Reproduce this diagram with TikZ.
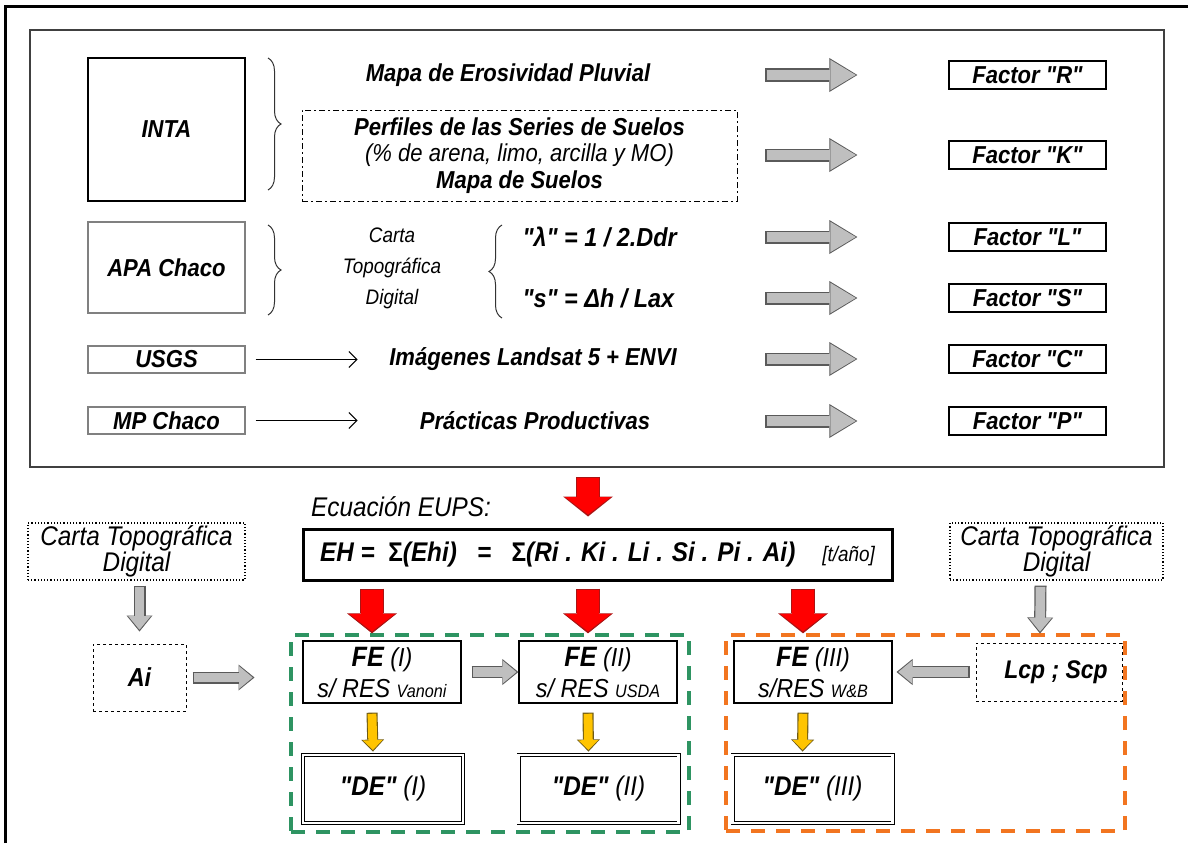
\documentclass[tikz,border=0pt]{standalone}
\usepackage{fontspec}
\newfontfamily\fuente{Liberation Sans}[FakeStretch=0.9]
\usepackage{xcolor}
\usetikzlibrary{arrows.meta,calc,decorations.pathreplacing}

\definecolor{verde}{RGB}{46,148,98}
\definecolor{naranja}{RGB}{242,117,32}
\definecolor{gris}{RGB}{191,191,191}
\definecolor{grisosc}{RGB}{90,90,90}
\definecolor{rojoosc}{RGB}{170,20,20}
\definecolor{amarillo}{RGB}{255,196,0}
\definecolor{amarilloosc}{RGB}{110,90,20}

\begin{document}
\begin{tikzpicture}[x=1pt,y=-1pt,
  txt/.style={font=\fuente\fontsize{24.5}{28}\selectfont\bfseries\itshape},
  txtn/.style={font=\fuente\fontsize{27}{30}\selectfont\itshape},
  caja/.style={draw, line width=1.3pt, inner sep=0pt},
  cajagris/.style={draw=black!50, line width=1.2pt, inner sep=0pt},
  doble/.style={draw, double, double distance=2.2pt, line width=0.9pt, inner sep=0pt},
  llave/.style={draw=black!80, line width=1pt, decorate, decoration={brace, amplitude=13pt}},
  fina/.style={line width=1pt, -{Straight Barb[length=8pt,width=16pt]}},
  flechagruesa/.style={draw=gris, line width=10.5pt,
    -{Triangle[length=25.5pt,width=30.5pt,line width=0pt]}, shorten >=1.6pt, shorten <=1.2pt,
    preaction={draw=grisosc, line width=13pt,
      -{Triangle[length=28pt,width=34pt,line width=0pt]}, shorten >=0pt, shorten <=0pt}},
  flechagris/.style={draw=gris, line width=9.6pt,
    -{Triangle[length=13.7pt,width=22.8pt,line width=0pt]}, shorten >=1.8pt, shorten <=1.2pt,
    preaction={draw=grisosc, line width=12pt,
      -{Triangle[length=16pt,width=26pt,line width=0pt]}, shorten >=0pt, shorten <=0pt}},
  flecharoja/.style={draw=red, line width=21.4pt,
    -{Triangle[length=17.5pt,width=46pt,line width=0pt]}, shorten >=2pt, shorten <=1.3pt,
    preaction={draw=rojoosc, line width=24pt,
      -{Triangle[length=20pt,width=50pt,line width=0pt]}, shorten >=0pt, shorten <=0pt}},
  flechaamarilla/.style={draw=amarillo, line width=8.8pt,
    -{Triangle[length=9.8pt,width=19.8pt,line width=0pt]}, shorten >=1.6pt, shorten <=1.1pt,
    preaction={draw=amarilloosc, line width=11pt,
      -{Triangle[length=12pt,width=23pt,line width=0pt]}, shorten >=0pt, shorten <=0pt}}]

\useasboundingbox (0,0) rectangle (1188,843);

% Marco exterior
\draw[line width=3pt] (5,843) -- (5,6.5) -- (1188,6.5);

% Recuadro de insumos
\node[draw=black!75, line width=1.5pt, minimum width=1134pt, minimum height=437pt, inner sep=0pt] (marco) at (597,248.5) {};

% Fuentes de datos
\node[caja, txt, minimum width=157pt, minimum height=143pt] (inta) at (166.5,129.5) {INTA};
\node[cajagris, txt, minimum width=157pt, minimum height=91pt] (apa) at (166.5,267.5) {APA Chaco};
\node[cajagris, txt, minimum width=157pt, minimum height=27pt] (usgs) at (166.5,359.5) {USGS};
\node[cajagris, txt, minimum width=157pt, minimum height=27pt] (mp) at (166.5,420.5) {MP Chaco};

% Llaves
\draw[llave] (268,58) -- (268,190);
\draw[llave] (268,225) -- (268,315);
\draw[llave] (502,318) -- (502,225);

% Insumos
\node[txt] (erosiv) at (508,75) {Mapa de Erosividad Pluvial};
\node[draw, line width=1pt, dash pattern=on 6pt off 3pt on 2pt off 3pt, inner sep=0pt,
  minimum width=435pt, minimum height=91pt, align=center,
  font=\fuente\fontsize{24.5}{26.5}\selectfont\bfseries\itshape] (perfiles) at (519.5,155.5)
  {Perfiles de las Series de Suelos\\
   {\mdseries (\% de arena, limo, arcilla y MO)}\\
   Mapa de Suelos};
\node[align=center, font=\fuente\fontsize{21}{31}\selectfont\itshape] (cartatopo) at (392,268) {Carta\\Topográfica\\Digital};
\node[txt, anchor=west, font=\fuente\fontsize{26}{28}\selectfont\bfseries\itshape] (lambda) at (519,237) {"λ" = 1 / 2.Ddr};
\node[txt, anchor=west, font=\fuente\fontsize{26}{28}\selectfont\bfseries\itshape] (pend) at (519,298) {"s" = Δh / Lax};
\node[txt] (landsat) at (533,359) {Imágenes Landsat 5 + ENVI};
\node[txt] (practicas) at (535,421) {Prácticas Productivas};

\draw[fina] ($(usgs.east)+(10,0)$) -- ++(102,0);
\draw[fina] ($(mp.east)+(10,0)$) -- ++(102,0);

% Factores
\foreach \f/\y in {R/75,K/155,L/237,S/298,C/359,P/421}{
  \node[caja, txt, minimum width=157pt, minimum height=28pt] (f\f) at (1027.5,\y) {Factor "\f"};
  \draw[flechagruesa] ($(f\f.west)+(-183,0)$) -- ($(f\f.west)+(-91,0)$);
}

% Ecuacion
\node[draw, line width=3pt, inner sep=0pt, minimum width=589pt, minimum height=51pt,
  font=\fuente\fontsize{27}{30}\selectfont\bfseries\itshape] (eups) at (597.5,554.5)
  {EH =\ \ {\upshape Σ}(Ehi)\ \ \ =\ \ \ {\upshape Σ}(Ri . Ki . Li . Si . Pi . Ai)\ \ \ \ {\mdseries\fontsize{21}{24}\selectfont [t/año]}};
\node[txtn] (ecuacion) at (401,507) {Ecuación EUPS:};

\node[draw, dotted, line width=1.2pt, inner sep=0pt, minimum width=217pt, minimum height=57pt, align=center,
  txtn, font=\fuente\fontsize{27}{26}\selectfont\itshape] (cartaI) at (136.5,551.5) {Carta Topográfica\\Digital};
\node[draw, dotted, line width=1.2pt, inner sep=0pt, minimum width=213pt, minimum height=57pt, align=center,
  txtn, font=\fuente\fontsize{27}{26}\selectfont\itshape] (cartaD) at (1056.5,551.5) {Carta Topográfica\\Digital};

% Grupos
\node[draw=verde, line width=4pt, dash pattern=on 14pt off 11pt, minimum width=398pt, minimum height=197pt] (grupoV) at (490,733.5) {};
\node[draw=naranja, line width=4pt, dash pattern=on 14pt off 11pt, minimum width=399pt, minimum height=196pt] (grupoN) at (925.5,733) {};

% Factores de erosion
\node[draw, dashed, line width=1pt, inner sep=0pt, minimum width=93pt, minimum height=67pt, txt, font=\fuente\fontsize{26}{28}\selectfont\bfseries\itshape] (ai) at (139.5,677.5) {Ai};
\node[caja, minimum width=158pt, minimum height=62pt, align=center, font=\fuente\fontsize{26}{31}\selectfont\itshape] (fe1) at (382,672)
  {{\bfseries\fontsize{28}{31}\selectfont FE} (I)\\s/ RES {\fontsize{18}{20}\selectfont Vanoni}};
\node[caja, minimum width=158pt, minimum height=62pt, align=center, font=\fuente\fontsize{26}{31}\selectfont\itshape] (fe2) at (598,672)
  {{\bfseries\fontsize{28}{31}\selectfont FE} (II)\\s/ RES {\fontsize{18}{20}\selectfont USDA}};
\node[caja, minimum width=158pt, minimum height=62pt, align=center, font=\fuente\fontsize{26}{31}\selectfont\itshape] (fe3) at (813,672)
  {{\bfseries\fontsize{28}{31}\selectfont FE} (III)\\s/RES {\fontsize{18}{20}\selectfont W\&B}};
\node[draw, dashed, line width=1pt, inner sep=0pt, minimum width=146pt, minimum height=58pt,
  font=\fuente\fontsize{25.5}{28}\selectfont\bfseries\itshape] (lcp) at (1049,672) {\hspace*{14pt}Lcp ; Scp};

\foreach \i/\x/\r in {1/383/I,2/598.5/II,3/812.5/III}
  \node[doble, minimum width=160pt, minimum height=68pt, font=\fuente\fontsize{27}{30}\selectfont\itshape] (de\i) at (\x,789) {{\bfseries "DE"} (\r)};

% Flechas rojas
\draw[flecharoja] ($(marco.south)+(-9,9)$) -- ($(eups.north)+(-9.5,-11)$);
\foreach \n in {fe1,fe2,fe3}
  \draw[flecharoja] ($(eups.south -| \n.north)+(-10,7)$) -- ($(\n.north)+(-10,-7)$);

% Flechas amarillas
\foreach \i in {1,2,3}
  \draw[flechaamarilla] ($(fe\i.south)+(-10,9)$) -- ($(de\i.north)+(-10,-3)$);

% Flechas grises
\draw[flechagris] ($(cartaI.south -| ai.north)+(0,5)$) -- ($(ai.north)+(0,-12)$);
\draw[flechagris] ($(cartaD.south)+(-16,5)$) -- ($(lcp.north)+(-9,-9)$);
\draw[flechagris] ($(ai.east)+(6,0)$) -- ++(62,0);
\draw[flechagris] ($(fe1.east)+(10,0)$) -- (fe2.west);
\draw[flechagris] ($(lcp.west)+(-6,0)$) -- ++(-73,0);

\end{tikzpicture}
\end{document}
